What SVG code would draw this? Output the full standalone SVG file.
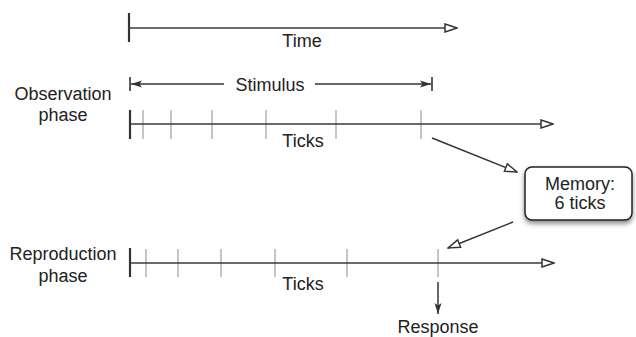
<svg xmlns="http://www.w3.org/2000/svg" width="636" height="337" viewBox="0 0 636 337">
  <style>
    text { font-family: "Liberation Sans", Arial, sans-serif; font-size: 18px; fill: #222; text-anchor: middle; }
    .axis { stroke: #3a3a3a; stroke-width: 1.6; fill: none; }
    .bar { stroke: #333; stroke-width: 2.2; }
    .tick { stroke: #a8a8a8; stroke-width: 1.3; }
    .conn { stroke: #333; stroke-width: 1.5; fill: none; }
  </style>
  <defs>
    <marker id="open" markerUnits="userSpaceOnUse" markerWidth="14" markerHeight="10" refX="13" refY="5" orient="auto">
      <path d="M1,1 L13,5 L1,9 Z" fill="#fff" stroke="#333" stroke-width="1.5" stroke-linejoin="miter"/>
    </marker>
    <marker id="solid" markerUnits="userSpaceOnUse" markerWidth="12" markerHeight="8" refX="11" refY="4" orient="auto">
      <path d="M0,0.5 L11,4 L0,7.5 L2.5,4 Z" fill="#333"/>
    </marker>
    <marker id="solidStart" markerUnits="userSpaceOnUse" markerWidth="12" markerHeight="8" refX="1" refY="4" orient="auto">
      <path d="M12,0.5 L1,4 L12,7.5 L9.5,4 Z" fill="#333"/>
    </marker>
    <filter id="shadow" x="-20%" y="-20%" width="140%" height="160%">
      <feDropShadow dx="0" dy="3" stdDeviation="2.5" flood-color="#000" flood-opacity="0.45"/>
    </filter>
  </defs>

  <!-- time axis -->
  <g id="time">
    <line class="bar" x1="129" y1="13" x2="129" y2="42"/>
    <line class="axis" x1="129" y1="28" x2="457" y2="28" marker-end="url(#open)"/>
    <text x="302" y="47">Time</text>
  </g>

  <!-- stimulus span -->
  <g id="stimulus">
    <line class="bar" x1="130" y1="77" x2="130" y2="91" style="stroke-width:1.6"/>
    <line class="bar" x1="432" y1="77" x2="432" y2="91" style="stroke-width:1.6"/>
    <line class="conn" x1="131" y1="84" x2="224" y2="84" marker-start="url(#solidStart)"/>
    <line class="conn" x1="315" y1="84" x2="431" y2="84" marker-end="url(#solid)"/>
    <text x="270" y="91">Stimulus</text>
  </g>

  <!-- observation phase -->
  <g id="observation">
    <text x="63" y="100">Observation</text>
    <text x="63" y="121">phase</text>
    <g class="tick">
      <line x1="143" y1="110" x2="143" y2="139"/>
      <line x1="171" y1="110" x2="171" y2="139"/>
      <line x1="212" y1="110" x2="212" y2="139"/>
      <line x1="266" y1="110" x2="266" y2="139"/>
      <line x1="336" y1="110" x2="336" y2="139"/>
      <line x1="421" y1="110" x2="421" y2="139"/>
    </g>
    <line class="axis" x1="130" y1="124" x2="553" y2="124" marker-end="url(#open)"/>
    <line class="bar" x1="130" y1="110" x2="130" y2="139"/>
    <text x="303" y="147">Ticks</text>
  </g>

  <!-- memory store -->
  <g id="memory">
    <rect x="525" y="167" width="107" height="53" rx="7" ry="7" fill="#fff" stroke="#222" stroke-width="1.5" filter="url(#shadow)"/>
    <text x="580" y="190">Memory:</text>
    <text x="580" y="209">6 ticks</text>
  </g>

  <!-- reproduction phase -->
  <g id="reproduction">
    <text x="63" y="260">Reproduction</text>
    <text x="63" y="282">phase</text>
    <g class="tick">
      <line x1="146" y1="249" x2="146" y2="277"/>
      <line x1="178" y1="249" x2="178" y2="277"/>
      <line x1="221" y1="249" x2="221" y2="277"/>
      <line x1="275" y1="249" x2="275" y2="277"/>
      <line x1="347" y1="249" x2="347" y2="277"/>
      <line x1="438" y1="249" x2="438" y2="277"/>
    </g>
    <line class="axis" x1="130" y1="263" x2="554" y2="263" marker-end="url(#open)"/>
    <line class="bar" x1="130" y1="248" x2="130" y2="277"/>
    <text x="303" y="290">Ticks</text>
  </g>

  <!-- response label -->
  <g id="response">
    <text x="438" y="333">Response</text>
  </g>

  <!-- connectors -->
  <g id="connectors">
    <line class="conn" x1="432" y1="138" x2="517" y2="172" marker-end="url(#open)"/>
    <line class="conn" x1="513" y1="222" x2="448" y2="248" marker-end="url(#open)"/>
    <line class="conn" x1="438" y1="282" x2="438" y2="314" marker-end="url(#solid)"/>
  </g>
</svg>
